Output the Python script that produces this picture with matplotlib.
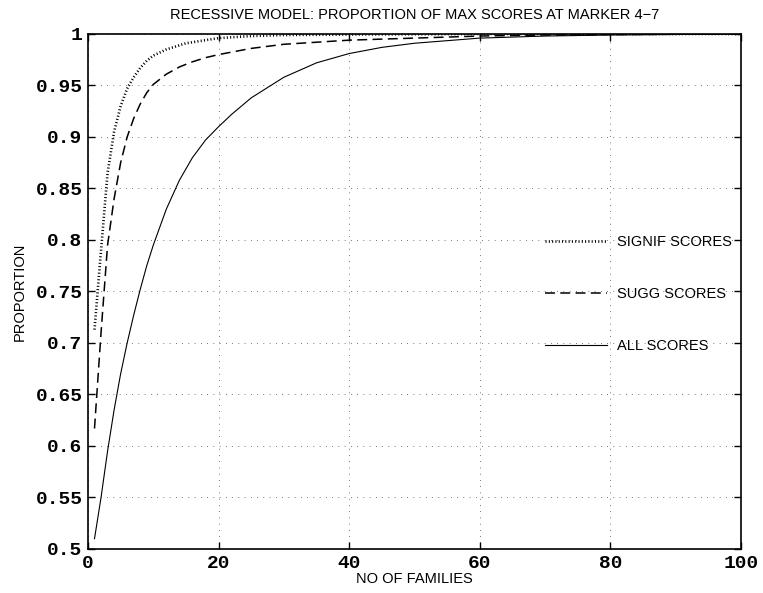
import matplotlib.pyplot as plt
from matplotlib.ticker import FuncFormatter, MultipleLocator

# values
x_all = [1, 2, 3, 4, 5, 6, 7, 8, 9, 10, 12, 14, 16, 18, 20, 22, 25, 30, 35, 40, 45, 50, 60, 70, 80, 90, 100]
all_scores = [0.51, 0.55, 0.595, 0.635, 0.67, 0.70, 0.727, 0.752, 0.775, 0.795, 0.83, 0.858, 0.88, 0.897,
              0.91, 0.922, 0.938, 0.958, 0.972, 0.981, 0.987, 0.991, 0.996, 0.998, 0.999, 0.9995, 1.0]

x_sugg = [1, 2, 3, 4, 5, 6, 7, 8, 9, 10, 12, 14, 16, 18, 20, 25, 30, 40, 50, 60, 70, 80, 100]
sugg_scores = [0.617, 0.71, 0.795, 0.84, 0.875, 0.90, 0.918, 0.932, 0.943, 0.951, 0.961, 0.968, 0.973,
               0.977, 0.980, 0.986, 0.990, 0.994, 0.996, 0.998, 0.999, 0.9995, 1.0]

x_signif = [1, 2, 3, 4, 5, 6, 7, 8, 9, 10, 12, 15, 20, 25, 30, 40, 60, 100]
signif_scores = [0.713, 0.79, 0.865, 0.905, 0.93, 0.947, 0.958, 0.967, 0.974, 0.979, 0.985, 0.991,
                 0.996, 0.998, 0.999, 0.9995, 1.0, 1.0]

labels = ['SIGNIF SCORES', 'SUGG SCORES', 'ALL SCORES']

fig = plt.figure(figsize=(7.63, 5.93), dpi=100)
ax = fig.add_axes([0.1153, 0.0742, 0.8559, 0.8685])

l_all, = ax.plot(x_all, all_scores, color='k', lw=0.8)
l_sugg, = ax.plot(x_sugg, sugg_scores, color='k', lw=1.1, dashes=(6.5, 3.5))
l_sig, = ax.plot(x_signif, signif_scores, color='k', lw=1.9, dashes=(0.4, 0.85),
                 dash_capstyle='butt')

ax.set_xlim(0, 100)
ax.set_ylim(0.5, 1)
ax.xaxis.set_major_locator(MultipleLocator(20))
ax.yaxis.set_major_locator(MultipleLocator(0.05))
ax.yaxis.set_major_formatter(FuncFormatter(lambda v, p: '%g' % round(v, 2)))

ax.grid(True, color='k', lw=0.5, dashes=(1, 8))
ax.tick_params(direction='in', length=5, width=1, top=True, right=True, pad=4)
for lab in ax.get_xticklabels() + ax.get_yticklabels():
    lab.set_family('Liberation Mono')
    lab.set_fontweight('bold')
    lab.set_fontsize(14)
for s in ax.spines.values():
    s.set_linewidth(1.2)

ax.set_title('RECESSIVE MODEL: PROPORTION OF MAX SCORES AT MARKER 4\u22127',
             family='Liberation Sans', fontsize=10.5, pad=11)
ax.set_xlabel('NO OF FAMILIES', family='Liberation Sans', fontsize=10.5, labelpad=0)
ax.set_ylabel('PROPORTION', family='Liberation Sans', fontsize=10.5, labelpad=6)

ax.legend([l_sig, l_sugg, l_all], labels, frameon=False, loc='upper left',
          bbox_to_anchor=(0.68, 0.635), handlelength=4.25, handletextpad=0.69,
          labelspacing=2.59, prop={'family': 'Liberation Sans', 'size': 10.5})

fig.savefig('out.png', dpi=100)
